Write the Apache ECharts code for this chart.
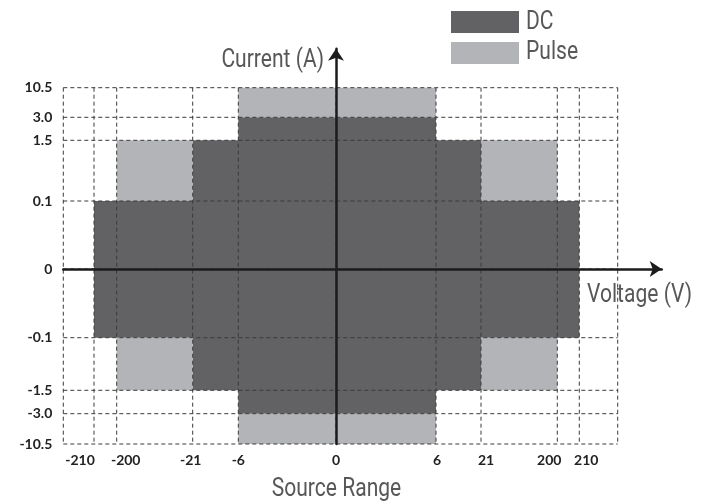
<!DOCTYPE html>
<html>
<head>
<meta charset="utf-8">
<script src="https://cdn.jsdelivr.net/npm/echarts@6/dist/echarts.min.js"></script>
<style>
html,body{margin:0;padding:0;background:#fff;}
#chart{width:708px;height:503px;}
</style>
</head>
<body>
<div id="chart"></div>
<script>
// ---- data ----
const voltageTicks = [-210, -200, -21, -6, 0, 6, 21, 200, 210];
const voltageTickLabels = ['-210', '-200', '-21', '-6', '0', '6', '21', '200', '210'];
const currentTicks = [-10.5, -3.0, -1.5, -0.1, 0, 0.1, 1.5, 3.0, 10.5];
const currentTickLabels = ['-10.5', '-3.0', '-1.5', '-0.1', '0', '0.1', '1.5', '3.0', '10.5'];
// regions: [voltageFrom, voltageTo, currentFrom, currentTo]
const dcRegions = [
  [-6, 6, -3.0, 3.0],
  [-21, 21, -1.5, 1.5],
  [-210, 210, -0.1, 0.1]
];
const pulseRegions = [
  [-6, 6, 3.0, 10.5],
  [-6, 6, -10.5, -3.0],
  [-200, -21, 0.1, 1.5],
  [21, 200, 0.1, 1.5],
  [-200, -21, -1.5, -0.1],
  [21, 200, -1.5, -0.1]
];
const seriesNames = ['DC', 'Pulse'];
const xAxisName = 'Voltage (V)';
const yAxisName = 'Current (A)';
const bottomTitle = 'Source Range';

// ---- non-linear "source range" scale (display units along each axis) ----
const xScaleUnits = [-242, -219.3, -143.3, -97.7, 0, 100, 145, 221.3, 243.3];
const yScaleUnits = [-175, -144.7, -121.3, -68.7, 0, 68, 128.7, 151.7, 181.3];
function piecewise(values, units) {
  return function (v) {
    const n = values.length;
    if (v <= values[0]) return units[0];
    if (v >= values[n - 1]) return units[n - 1];
    for (let i = 0; i < n - 1; i++) {
      if (v >= values[i] && v <= values[i + 1]) {
        const t = (v - values[i]) / (values[i + 1] - values[i]);
        return units[i] + t * (units[i + 1] - units[i]);
      }
    }
    return 0;
  };
}
const xs = piecewise(voltageTicks, xScaleUnits);
const ys = piecewise(currentTicks, yScaleUnits);
const X_MIN = -272.7, X_MAX = 325.7, BOX_RIGHT = 281.7;
const Y_MIN = -175, Y_MAX = 220.3;

const xTickUnits = voltageTicks.map(xs);
const yTickUnits = currentTicks.map(ys);

// horizontal nudges for crowded x labels (px)
const xLabelNudge = {'-210': -14, '-200': 9, '-21': -2, '6': 1, '21': 5, '200': -8, '210': 7};
const rich = {};
Object.keys(xLabelNudge).forEach(function (k, i) {
  const d = xLabelNudge[k];
  rich['n' + i] = {
    fontFamily: 'Lato', fontWeight: 'bold', fontSize: 14, color: '#222',
    padding: d < 0 ? [0, -2 * d, 0, 0] : [0, 0, 0, 2 * d]
  };
});
const nudgeKeys = Object.keys(xLabelNudge);

const TXT_FONT = 'Roboto';
const TXT_SIZE = 26;
const TXT_SCALE = 0.81;
const TXT_COLOR = '#58585a';
const DARK = '#626264', LIGHT = '#b3b4b7';

function condensedText(text, x, y, align) {
  return {
    type: 'text', x: x, y: y, scaleX: TXT_SCALE, z: 20,
    style: {text: text, fontFamily: TXT_FONT, fontSize: TXT_SIZE, fill: TXT_COLOR,
      textAlign: align, textVerticalAlign: 'middle'}
  };
}

function regionRender(params, api) {
  const x1 = xs(api.value(0)), x2 = xs(api.value(1));
  const y1 = ys(api.value(2)), y2 = ys(api.value(3));
  const p1 = api.coord([x1, y2]);
  const p2 = api.coord([x2, y1]);
  return {
    type: 'rect',
    shape: {x: p1[0], y: p1[1], width: p2[0] - p1[0], height: p2[1] - p1[1]},
    style: {fill: api.visual('color')}
  };
}

function gridRender(params, api) {
  const children = [];
  const dash = {stroke: '#3a3a3a', lineWidth: 1, lineDash: [4, 3]};
  const yTop = ys(currentTicks[currentTicks.length - 1]);
  const yBot = ys(currentTicks[0]);
  const vx = xTickUnits.concat([X_MIN, BOX_RIGHT]);
  vx.forEach(function (u) {
    const a = api.coord([u, yTop]), b = api.coord([u, yBot]);
    children.push({type: 'line', shape: {x1: a[0], y1: a[1], x2: b[0], y2: b[1]}, style: dash});
  });
  yTickUnits.forEach(function (u) {
    const a = api.coord([X_MIN, u]), b = api.coord([BOX_RIGHT, u]);
    children.push({type: 'line', shape: {x1: a[0], y1: a[1], x2: b[0], y2: b[1]}, style: dash});
  });
  return {type: 'group', children: children};
}

const chart = echarts.init(document.getElementById('chart'), null, {renderer: 'canvas'});
chart.setOption({
  backgroundColor: '#ffffff',
  animation: false,
  grid: {left: 63.3, right: 46.3, top: 48.7, bottom: 59},
  legend: {
    data: seriesNames,
    orient: 'vertical',
    left: 446, top: 6,
    icon: 'rect',
    itemWidth: 68, itemHeight: 22, itemGap: 9,
    formatter: function () { return ''; },
    textStyle: {fontSize: 1},
    selectedMode: false
  },
  xAxis: [
    {
      type: 'value', min: X_MIN, max: X_MAX, position: 'bottom',
      axisLine: {show: false}, axisTick: {show: false}, splitLine: {show: false},
      axisLabel: {
        customValues: xTickUnits,
        margin: 9,
        fontFamily: 'Lato', fontWeight: 'bold', fontSize: 14, color: '#222',
        rich: rich,
        formatter: function (val) {
          const i = xTickUnits.findIndex(function (u) { return Math.abs(u - val) < 0.01; });
          if (i < 0) return '';
          const lab = voltageTickLabels[i];
          const k = nudgeKeys.indexOf(lab);
          return k >= 0 ? '{n' + k + '|' + lab + '}' : lab;
        }
      }
    },
    {
      type: 'value', min: X_MIN, max: X_MAX, z: 10,
      axisLine: {show: true, onZero: true, onZeroAxisIndex: 1, symbol: ['none', 'arrow'], symbolSize: [12, 12],
        lineStyle: {color: '#1c1c1c', width: 2.5}},
      axisTick: {show: false}, axisLabel: {show: false}, splitLine: {show: false}
    }
  ],
  yAxis: [
    {
      type: 'value', min: Y_MIN, max: Y_MAX, position: 'left',
      axisLine: {show: false}, axisTick: {show: false}, splitLine: {show: false},
      axisLabel: {
        customValues: yTickUnits,
        margin: 11,
        fontFamily: 'Lato', fontWeight: 'bold', fontSize: 14, color: '#222',
        formatter: function (val) {
          const i = yTickUnits.findIndex(function (u) { return Math.abs(u - val) < 0.01; });
          return i < 0 ? '' : currentTickLabels[i];
        }
      }
    },
    {
      type: 'value', min: Y_MIN, max: Y_MAX, z: 10,
      axisLine: {show: true, onZero: true, onZeroAxisIndex: 1, symbol: ['none', 'arrow'], symbolSize: [12, 12],
        lineStyle: {color: '#1c1c1c', width: 2.5}},
      axisTick: {show: false}, axisLabel: {show: false}, splitLine: {show: false}
    }
  ],
  graphic: [
    condensedText(yAxisName, 324, 60, 'right'),
    condensedText(xAxisName, 587, 295, 'left'),
    condensedText(bottomTitle, 336.5, 489, 'center'),
    condensedText(seriesNames[0], 526, 22, 'left'),
    condensedText(seriesNames[1], 526, 52.5, 'left')
  ],
  series: [
    {name: seriesNames[0], type: 'custom', xAxisIndex: 0, yAxisIndex: 0, z: 1,
      itemStyle: {color: DARK}, renderItem: regionRender, data: dcRegions, silent: true},
    {name: seriesNames[1], type: 'custom', xAxisIndex: 0, yAxisIndex: 0, z: 1,
      itemStyle: {color: LIGHT}, renderItem: regionRender, data: pulseRegions, silent: true},
    {name: 'grid', type: 'custom', xAxisIndex: 0, yAxisIndex: 0, z: 3,
      renderItem: gridRender, data: [[0, 0, 0, 0]], silent: true}
  ]
});
</script>
</body>
</html>
